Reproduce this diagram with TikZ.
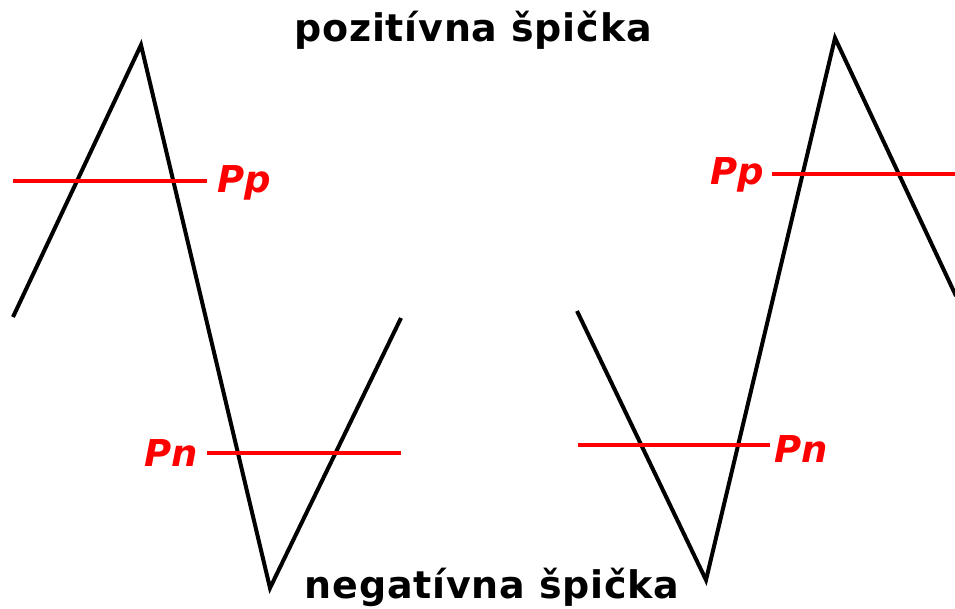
\documentclass[tikz,border=0pt]{standalone}
\usepackage{fontspec}
\setmainfont{DejaVu Sans}
\newfontfamily\titlefont[LetterSpace=2]{DejaVu Sans}
\begin{document}
\begin{tikzpicture}[x=1pt,y=-1pt,
  wave/.style={line width=4pt,black},
  level/.style={line width=3.5pt,red},
  lvltext/.style={text=red,font=\fontsize{37}{40}\selectfont\bfseries\itshape,inner sep=0pt,anchor=base},
  title/.style={font=\fontsize{38}{44}\titlefont\bfseries,inner sep=0pt,anchor=base}]
\useasboundingbox[fill=white] (0,0) rectangle (955,609);
% left wave
\coordinate (l1) at (13,317);
\coordinate (l2) at (141,45);
\coordinate (l3) at (270,588);
\coordinate (l4) at (401,318);
\draw[wave] (l1) -- (l2) -- (l3) -- (l4);
% right wave
\coordinate (r1) at (577,311);
\coordinate (r2) at (706,580);
\coordinate (r3) at (835,38);
\coordinate (r4) at (956,296);
\draw[wave] (r1) -- (r2) -- (r3) -- (r4);
% levels left
\coordinate (lpa) at (13,181);
\coordinate (lpb) at (207,181);
\coordinate (lna) at (207,453);
\coordinate (lnb) at (401,453);
\draw[level] (lpa) -- (lpb);
\draw[level] (lna) -- (lnb);
\node[lvltext] (lpp) at (244,193) {Pp};
\node[lvltext] (lpn) at (171,466) {Pn};
% levels right
\coordinate (rpa) at (772,174);
\coordinate (rpb) at (955,174);
\coordinate (rna) at (578,445);
\coordinate (rnb) at (770,445);
\draw[level] (rpa) -- (rpb);
\draw[level] (rna) -- (rnb);
\node[lvltext] (rpp) at (737,185) {Pp};
\node[lvltext] (rpn) at (801,462) {Pn};
% titles
\node[title] (top) at (473,42) {pozitívna špička};
\node[title] (bot) at (492,598) {negatívna špička};
\end{tikzpicture}
\end{document}
